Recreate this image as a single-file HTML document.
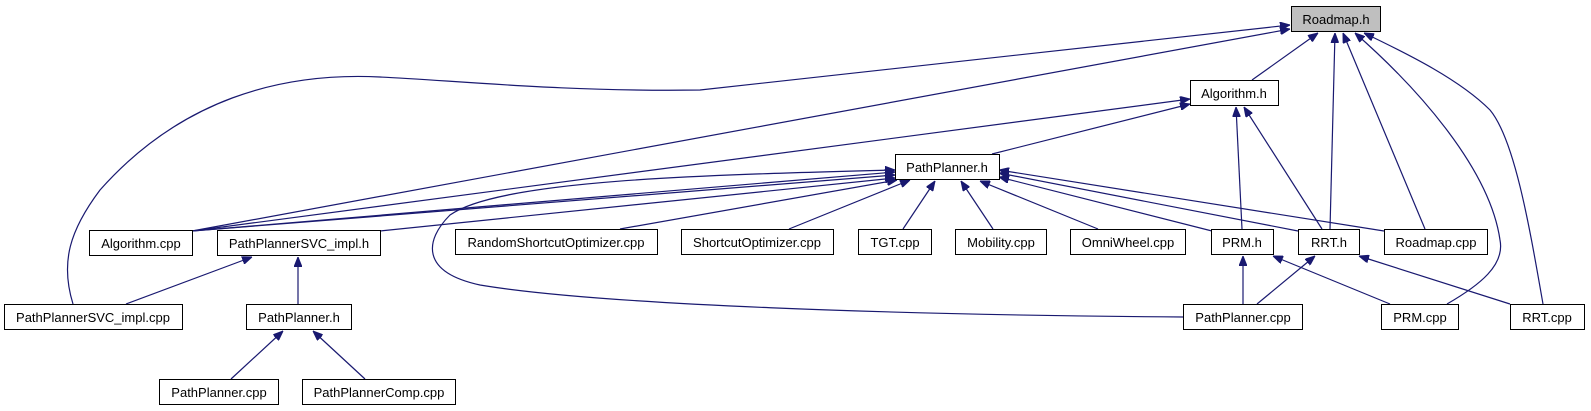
<!DOCTYPE html>
<html><head><meta charset="utf-8"><style>
html,body{margin:0;padding:0;background:#fff;}
svg{display:block;}
text{font-family:"Liberation Sans",Arial,sans-serif;font-size:13px;fill:#000;}
</style></head><body>
<svg width="1591" height="411" viewBox="0 0 1591 411" xmlns="http://www.w3.org/2000/svg">
<defs>
<marker id="a" viewBox="0 0 10 8" refX="10" refY="4" markerWidth="10" markerHeight="8" markerUnits="userSpaceOnUse" orient="auto">
<path d="M0,0 L10,4 L0,8 z" fill="#191970" stroke="#191970"/>
</marker>
</defs>
<g fill="none" stroke="#191970" stroke-width="1.2" marker-end="url(#a)">
<!-- to Roadmap.h -->
<path d="M73,304 C60,262 70,230 100,190 C180,100 280,72 380,77 C450,80 560,92 700,90 L1290,25"/>
<path d="M192,231 L1290,29"/>
<path d="M1252,80 L1318,33"/>
<path d="M1330,229 L1335,33"/>
<path d="M1425,229 L1343,33"/>
<path d="M1447,304 C1480,285 1505,265 1500,240 C1490,170 1420,90 1355,33"/>
<path d="M1543,304 C1530,230 1515,140 1490,110 C1460,80 1410,55 1364,33"/>
<!-- to Algorithm.h -->
<path d="M192,231 L1190,99"/>
<path d="M992,154 L1190,104"/>
<path d="M1242,229 L1236,107"/>
<path d="M1322,229 L1244,107"/>
<!-- to PathPlanner.h -->
<path d="M192,231 L895,172"/>
<path d="M192,231 L895,175"/>
<path d="M380,231 L895,178"/>
<path d="M620,229 L897,180"/>
<path d="M789,229 L910,180"/>
<path d="M903,229 L935,181"/>
<path d="M993,229 L961,181"/>
<path d="M1098,229 L980,181"/>
<path d="M1212,231 L999,177"/>
<path d="M1298,231 L999,173"/>
<path d="M1384,231 L999,170"/>
<path d="M1183,317 C900,315 600,305 480,285 C420,272 425,240 450,215 C500,180 700,175 895,170"/>
<!-- lower -->
<path d="M126,304 L252,257"/>
<path d="M298,304 L298,257"/>
<path d="M231,379 L283,331"/>
<path d="M365,379 L313,331"/>
<path d="M1243,304 L1243,256"/>
<path d="M1257,304 L1315,256"/>
<path d="M1390,304 L1273,256"/>
<path d="M1510,304 L1359,256"/>
</g>
<g stroke="#000" stroke-width="1" fill="#fff">
<rect x="1291.5" y="6.5" width="89" height="25" fill="#bfbfbf"/>
<rect x="1190.5" y="80.5" width="88" height="25"/>
<rect x="895.5" y="154.5" width="104" height="25"/>
<rect x="89.5" y="230.5" width="103" height="25"/>
<rect x="217.5" y="230.5" width="163" height="25"/>
<rect x="455.5" y="229.5" width="202" height="25"/>
<rect x="681.5" y="229.5" width="152" height="25"/>
<rect x="858.5" y="229.5" width="73" height="25"/>
<rect x="955.5" y="229.5" width="91" height="25"/>
<rect x="1070.5" y="229.5" width="115" height="25"/>
<rect x="1211.5" y="229.5" width="62" height="25"/>
<rect x="1298.5" y="229.5" width="61" height="25"/>
<rect x="1384.5" y="229.5" width="103" height="25"/>
<rect x="4.5" y="304.5" width="178" height="25"/>
<rect x="246.5" y="304.5" width="105" height="25"/>
<rect x="1183.5" y="304.5" width="119" height="25"/>
<rect x="1381.5" y="304.5" width="77" height="25"/>
<rect x="1510.5" y="304.5" width="74" height="25"/>
<rect x="159.5" y="379.5" width="119" height="25"/>
<rect x="302.5" y="379.5" width="153" height="25"/>
</g>
<g text-anchor="middle">
<text x="1336" y="24">Roadmap.h</text>
<text x="1234" y="98">Algorithm.h</text>
<text x="947" y="172">PathPlanner.h</text>
<text x="141" y="248">Algorithm.cpp</text>
<text x="299" y="248">PathPlannerSVC_impl.h</text>
<text x="556" y="247">RandomShortcutOptimizer.cpp</text>
<text x="757" y="247">ShortcutOptimizer.cpp</text>
<text x="895" y="247">TGT.cpp</text>
<text x="1001" y="247">Mobility.cpp</text>
<text x="1128" y="247">OmniWheel.cpp</text>
<text x="1242" y="247">PRM.h</text>
<text x="1329" y="247">RRT.h</text>
<text x="1436" y="247">Roadmap.cpp</text>
<text x="93" y="322">PathPlannerSVC_impl.cpp</text>
<text x="299" y="322">PathPlanner.h</text>
<text x="1243" y="322">PathPlanner.cpp</text>
<text x="1420" y="322">PRM.cpp</text>
<text x="1547" y="322">RRT.cpp</text>
<text x="219" y="397">PathPlanner.cpp</text>
<text x="379" y="397">PathPlannerComp.cpp</text>
</g>
</svg>
</body></html>
